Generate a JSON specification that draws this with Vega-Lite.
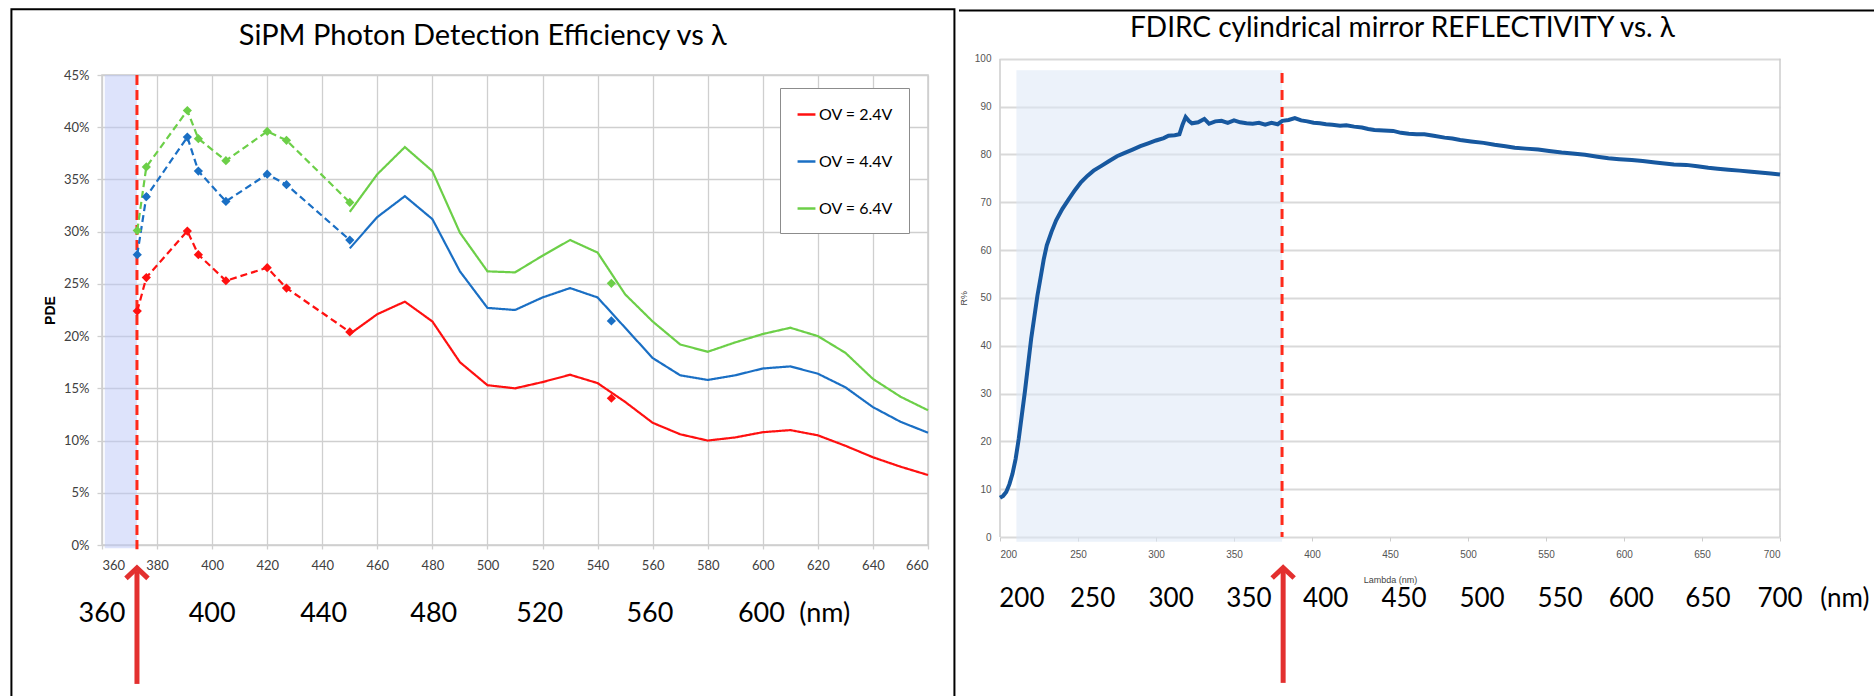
{
  "$schema": "https://vega.github.io/schema/vega-lite/v6.json",
  "padding": {"left": 9, "top": 7, "right": 0, "bottom": 0},
  "background": "white",
  "config": {"font": "Lato"},
  "datasets": {
    "pde": [
      {"x": 372.8, "y": 0.224, "ov": "OV = 2.4V", "seg": "d"},
      {"x": 376.1, "y": 0.256, "ov": "OV = 2.4V", "seg": "d"},
      {"x": 391, "y": 0.3006, "ov": "OV = 2.4V", "seg": "d"},
      {"x": 395, "y": 0.278, "ov": "OV = 2.4V", "seg": "d"},
      {"x": 405, "y": 0.253, "ov": "OV = 2.4V", "seg": "d"},
      {"x": 420, "y": 0.2655, "ov": "OV = 2.4V", "seg": "d"},
      {"x": 427, "y": 0.246, "ov": "OV = 2.4V", "seg": "d"},
      {"x": 450, "y": 0.204, "ov": "OV = 2.4V", "seg": "d"},
      {"x": 372.8, "y": 0.278, "ov": "OV = 4.4V", "seg": "d"},
      {"x": 376.1, "y": 0.3335, "ov": "OV = 4.4V", "seg": "d"},
      {"x": 391, "y": 0.3906, "ov": "OV = 4.4V", "seg": "d"},
      {"x": 395, "y": 0.358, "ov": "OV = 4.4V", "seg": "d"},
      {"x": 405, "y": 0.329, "ov": "OV = 4.4V", "seg": "d"},
      {"x": 420, "y": 0.355, "ov": "OV = 4.4V", "seg": "d"},
      {"x": 427, "y": 0.345, "ov": "OV = 4.4V", "seg": "d"},
      {"x": 450, "y": 0.292, "ov": "OV = 4.4V", "seg": "d"},
      {"x": 372.8, "y": 0.301, "ov": "OV = 6.4V", "seg": "d"},
      {"x": 376.1, "y": 0.362, "ov": "OV = 6.4V", "seg": "d"},
      {"x": 391, "y": 0.416, "ov": "OV = 6.4V", "seg": "d"},
      {"x": 395, "y": 0.389, "ov": "OV = 6.4V", "seg": "d"},
      {"x": 405, "y": 0.368, "ov": "OV = 6.4V", "seg": "d"},
      {"x": 420, "y": 0.396, "ov": "OV = 6.4V", "seg": "d"},
      {"x": 427, "y": 0.3875, "ov": "OV = 6.4V", "seg": "d"},
      {"x": 450, "y": 0.328, "ov": "OV = 6.4V", "seg": "d"},
      {"x": 545, "y": 0.1405, "ov": "OV = 2.4V", "seg": "i"},
      {"x": 545, "y": 0.2145, "ov": "OV = 4.4V", "seg": "i"},
      {"x": 545, "y": 0.2505, "ov": "OV = 6.4V", "seg": "i"},
      {"x": 450, "y": 0.202, "ov": "OV = 2.4V", "seg": "s"},
      {"x": 460, "y": 0.221, "ov": "OV = 2.4V", "seg": "s"},
      {"x": 470, "y": 0.233, "ov": "OV = 2.4V", "seg": "s"},
      {"x": 480, "y": 0.214, "ov": "OV = 2.4V", "seg": "s"},
      {"x": 490, "y": 0.175, "ov": "OV = 2.4V", "seg": "s"},
      {"x": 500, "y": 0.153, "ov": "OV = 2.4V", "seg": "s"},
      {"x": 510, "y": 0.150, "ov": "OV = 2.4V", "seg": "s"},
      {"x": 520, "y": 0.156, "ov": "OV = 2.4V", "seg": "s"},
      {"x": 530, "y": 0.163, "ov": "OV = 2.4V", "seg": "s"},
      {"x": 540, "y": 0.155, "ov": "OV = 2.4V", "seg": "s"},
      {"x": 550, "y": 0.137, "ov": "OV = 2.4V", "seg": "s"},
      {"x": 560, "y": 0.117, "ov": "OV = 2.4V", "seg": "s"},
      {"x": 570, "y": 0.106, "ov": "OV = 2.4V", "seg": "s"},
      {"x": 580, "y": 0.100, "ov": "OV = 2.4V", "seg": "s"},
      {"x": 590, "y": 0.103, "ov": "OV = 2.4V", "seg": "s"},
      {"x": 600, "y": 0.108, "ov": "OV = 2.4V", "seg": "s"},
      {"x": 610, "y": 0.110, "ov": "OV = 2.4V", "seg": "s"},
      {"x": 620, "y": 0.105, "ov": "OV = 2.4V", "seg": "s"},
      {"x": 630, "y": 0.095, "ov": "OV = 2.4V", "seg": "s"},
      {"x": 640, "y": 0.084, "ov": "OV = 2.4V", "seg": "s"},
      {"x": 650, "y": 0.075, "ov": "OV = 2.4V", "seg": "s"},
      {"x": 660, "y": 0.067, "ov": "OV = 2.4V", "seg": "s"},
      {"x": 450, "y": 0.284, "ov": "OV = 4.4V", "seg": "s"},
      {"x": 460, "y": 0.314, "ov": "OV = 4.4V", "seg": "s"},
      {"x": 470, "y": 0.334, "ov": "OV = 4.4V", "seg": "s"},
      {"x": 480, "y": 0.312, "ov": "OV = 4.4V", "seg": "s"},
      {"x": 490, "y": 0.262, "ov": "OV = 4.4V", "seg": "s"},
      {"x": 500, "y": 0.227, "ov": "OV = 4.4V", "seg": "s"},
      {"x": 510, "y": 0.225, "ov": "OV = 4.4V", "seg": "s"},
      {"x": 520, "y": 0.237, "ov": "OV = 4.4V", "seg": "s"},
      {"x": 530, "y": 0.246, "ov": "OV = 4.4V", "seg": "s"},
      {"x": 540, "y": 0.237, "ov": "OV = 4.4V", "seg": "s"},
      {"x": 550, "y": 0.208, "ov": "OV = 4.4V", "seg": "s"},
      {"x": 560, "y": 0.179, "ov": "OV = 4.4V", "seg": "s"},
      {"x": 570, "y": 0.1625, "ov": "OV = 4.4V", "seg": "s"},
      {"x": 580, "y": 0.158, "ov": "OV = 4.4V", "seg": "s"},
      {"x": 590, "y": 0.1625, "ov": "OV = 4.4V", "seg": "s"},
      {"x": 600, "y": 0.169, "ov": "OV = 4.4V", "seg": "s"},
      {"x": 610, "y": 0.171, "ov": "OV = 4.4V", "seg": "s"},
      {"x": 620, "y": 0.164, "ov": "OV = 4.4V", "seg": "s"},
      {"x": 630, "y": 0.151, "ov": "OV = 4.4V", "seg": "s"},
      {"x": 640, "y": 0.132, "ov": "OV = 4.4V", "seg": "s"},
      {"x": 650, "y": 0.118, "ov": "OV = 4.4V", "seg": "s"},
      {"x": 660, "y": 0.1075, "ov": "OV = 4.4V", "seg": "s"},
      {"x": 450, "y": 0.319, "ov": "OV = 6.4V", "seg": "s"},
      {"x": 460, "y": 0.355, "ov": "OV = 6.4V", "seg": "s"},
      {"x": 470, "y": 0.381, "ov": "OV = 6.4V", "seg": "s"},
      {"x": 480, "y": 0.358, "ov": "OV = 6.4V", "seg": "s"},
      {"x": 490, "y": 0.299, "ov": "OV = 6.4V", "seg": "s"},
      {"x": 500, "y": 0.262, "ov": "OV = 6.4V", "seg": "s"},
      {"x": 510, "y": 0.261, "ov": "OV = 6.4V", "seg": "s"},
      {"x": 520, "y": 0.277, "ov": "OV = 6.4V", "seg": "s"},
      {"x": 530, "y": 0.292, "ov": "OV = 6.4V", "seg": "s"},
      {"x": 540, "y": 0.280, "ov": "OV = 6.4V", "seg": "s"},
      {"x": 550, "y": 0.240, "ov": "OV = 6.4V", "seg": "s"},
      {"x": 560, "y": 0.214, "ov": "OV = 6.4V", "seg": "s"},
      {"x": 570, "y": 0.192, "ov": "OV = 6.4V", "seg": "s"},
      {"x": 580, "y": 0.185, "ov": "OV = 6.4V", "seg": "s"},
      {"x": 590, "y": 0.194, "ov": "OV = 6.4V", "seg": "s"},
      {"x": 600, "y": 0.202, "ov": "OV = 6.4V", "seg": "s"},
      {"x": 610, "y": 0.208, "ov": "OV = 6.4V", "seg": "s"},
      {"x": 620, "y": 0.200, "ov": "OV = 6.4V", "seg": "s"},
      {"x": 630, "y": 0.184, "ov": "OV = 6.4V", "seg": "s"},
      {"x": 640, "y": 0.159, "ov": "OV = 6.4V", "seg": "s"},
      {"x": 650, "y": 0.142, "ov": "OV = 6.4V", "seg": "s"},
      {"x": 660, "y": 0.129, "ov": "OV = 6.4V", "seg": "s"}
    ],
    "refl": [
      {"x": 200, "y": 8.2}, {"x": 202, "y": 8.6}, {"x": 204, "y": 9.4}, {"x": 206, "y": 11.0},
      {"x": 208, "y": 13.2}, {"x": 210, "y": 16.3}, {"x": 212, "y": 20.5}, {"x": 214, "y": 25.5},
      {"x": 216, "y": 30.5}, {"x": 218, "y": 36.0}, {"x": 220, "y": 41.5}, {"x": 222, "y": 46.0},
      {"x": 224, "y": 50.5}, {"x": 226, "y": 54.2}, {"x": 228, "y": 58.0}, {"x": 230, "y": 61.0},
      {"x": 233, "y": 63.8}, {"x": 236, "y": 66.2}, {"x": 240, "y": 68.6}, {"x": 244, "y": 70.6},
      {"x": 248, "y": 72.5}, {"x": 252, "y": 74.2}, {"x": 256, "y": 75.5}, {"x": 260, "y": 76.6},
      {"x": 265, "y": 77.6}, {"x": 270, "y": 78.6}, {"x": 275, "y": 79.6}, {"x": 280, "y": 80.3},
      {"x": 285, "y": 81.0}, {"x": 290, "y": 81.7}, {"x": 295, "y": 82.3}, {"x": 300, "y": 82.9},
      {"x": 305, "y": 83.4}, {"x": 308, "y": 83.9}, {"x": 312, "y": 84.0}, {"x": 315, "y": 84.2},
      {"x": 317, "y": 86.2}, {"x": 319, "y": 87.8}, {"x": 321, "y": 87.0}, {"x": 323, "y": 86.5},
      {"x": 327, "y": 86.7}, {"x": 331, "y": 87.4}, {"x": 334, "y": 86.4}, {"x": 338, "y": 86.9},
      {"x": 342, "y": 87.0}, {"x": 346, "y": 86.6}, {"x": 350, "y": 87.1}, {"x": 354, "y": 86.7},
      {"x": 358, "y": 86.5}, {"x": 362, "y": 86.4}, {"x": 366, "y": 86.6}, {"x": 370, "y": 86.2},
      {"x": 374, "y": 86.6}, {"x": 378, "y": 86.3}, {"x": 381, "y": 87.0}, {"x": 385, "y": 87.2},
      {"x": 389, "y": 87.6}, {"x": 393, "y": 87.1}, {"x": 397, "y": 86.9}, {"x": 401, "y": 86.6},
      {"x": 405, "y": 86.5}, {"x": 409, "y": 86.3}, {"x": 413, "y": 86.2}, {"x": 418, "y": 86.0},
      {"x": 422, "y": 86.1}, {"x": 427, "y": 85.8}, {"x": 432, "y": 85.6}, {"x": 436, "y": 85.3},
      {"x": 440, "y": 85.1}, {"x": 446, "y": 85.0}, {"x": 452, "y": 84.9}, {"x": 457, "y": 84.5},
      {"x": 462, "y": 84.3}, {"x": 467, "y": 84.2}, {"x": 472, "y": 84.2}, {"x": 478, "y": 83.9},
      {"x": 485, "y": 83.5}, {"x": 490, "y": 83.3}, {"x": 495, "y": 83.0}, {"x": 502, "y": 82.7},
      {"x": 510, "y": 82.4}, {"x": 517, "y": 82.0}, {"x": 524, "y": 81.7}, {"x": 530, "y": 81.4},
      {"x": 537, "y": 81.2}, {"x": 545, "y": 81.0}, {"x": 552, "y": 80.7}, {"x": 560, "y": 80.4},
      {"x": 567, "y": 80.2}, {"x": 575, "y": 79.9}, {"x": 583, "y": 79.5}, {"x": 590, "y": 79.2},
      {"x": 597, "y": 79.0}, {"x": 605, "y": 78.8}, {"x": 612, "y": 78.6}, {"x": 620, "y": 78.3},
      {"x": 626, "y": 78.1}, {"x": 632, "y": 77.9}, {"x": 640, "y": 77.8}, {"x": 647, "y": 77.5},
      {"x": 654, "y": 77.2}, {"x": 660, "y": 77.0}, {"x": 667, "y": 76.8}, {"x": 674, "y": 76.6},
      {"x": 680, "y": 76.4}, {"x": 687, "y": 76.2}, {"x": 694, "y": 76.0}, {"x": 700, "y": 75.8}
    ],
    "lblL": [
      {"x": 360, "t": "360"}, {"x": 400, "t": "400"}, {"x": 440.5, "t": "440"}, {"x": 480.5, "t": "480"},
      {"x": 519, "t": "520"}, {"x": 559, "t": "560"}, {"x": 599.5, "t": "600"}, {"x": 622.5, "t": "(nm)"}
    ],
    "lblR": [
      {"x": 214, "t": "200"}, {"x": 259.4, "t": "250"}, {"x": 309.7, "t": "300"}, {"x": 359.6, "t": "350"},
      {"x": 408.8, "t": "400"}, {"x": 459, "t": "450"}, {"x": 509, "t": "500"}, {"x": 559, "t": "550"},
      {"x": 604.7, "t": "600"}, {"x": 653.8, "t": "650"}, {"x": 700, "t": "700"}, {"x": 741.6, "t": "(nm)"}
    ],
    "borderR": [
      {"x": 200, "y": 0, "y2": 100},
      {"x": 700, "y": 0, "y2": 100}
    ]
  },
  "hconcat": [
    {
      "width": 826,
      "height": 470,
      "view": {"stroke": "#cccccc", "strokeWidth": 1.5},
      "layer": [
        {
          "data": {"values": [{"x": 361, "x2": 372.7}]},
          "mark": {"type": "rect", "color": "#bbc7f7", "opacity": 0.5},
          "encoding": {
            "x": {"field": "x", "type": "quantitative", "scale": {"domain": [360, 660], "nice": false, "zero": false}, "axis": {"title": null, "values": [360, 380, 400, 420, 440, 460, 480, 500, 520, 540, 560, 580, 600, 620, 640, 660], "grid": true, "gridColor": "#cfcfcf", "gridWidth": 1.3, "domain": false, "tickColor": "#cfcfcf", "tickSize": 4, "tickWidth": 1.3, "labelFont": "Lato", "labelFontSize": 13, "labelColor": "#404040", "labelPadding": 10}},
            "x2": {"field": "x2"},
            "y": {"datum": 0.45, "type": "quantitative", "scale": {"domain": [0, 0.45], "nice": false, "zero": false}, "axis": {"title": "PDE", "titleFont": "Liberation Sans", "titleFontSize": 14, "titleFontWeight": "bold", "titleColor": "#000000", "titlePadding": 6, "values": [0, 0.05, 0.1, 0.15, 0.2, 0.25, 0.3, 0.35, 0.4, 0.45], "format": ".0%", "grid": true, "gridColor": "#cfcfcf", "gridWidth": 1.3, "domain": false, "tickColor": "#cfcfcf", "tickSize": 5, "tickWidth": 1.3, "labelFont": "Lato", "labelFontSize": 13, "labelColor": "#404040", "labelPadding": 8}},
            "y2": {"datum": -0.003}
          }
        },
        {
          "data": {"values": [{"x": 327.1, "x2": 669.6}]},
          "mark": {"type": "rect", "filled": false, "stroke": "#000000", "strokeWidth": 2},
          "encoding": {
            "x": {"field": "x", "type": "quantitative", "scale": {"domain": [360, 660], "nice": false, "zero": false}, "axis": {"title": null, "values": [360, 380, 400, 420, 440, 460, 480, 500, 520, 540, 560, 580, 600, 620, 640, 660], "grid": true, "gridColor": "#cfcfcf", "gridWidth": 1.3, "domain": false, "tickColor": "#cfcfcf", "tickSize": 4, "tickWidth": 1.3, "labelFont": "Lato", "labelFontSize": 13, "labelColor": "#404040", "labelPadding": 10}},
            "x2": {"field": "x2"},
            "y": {"datum": 0.513, "type": "quantitative", "scale": {"domain": [0, 0.45], "nice": false, "zero": false}, "axis": {"title": "PDE", "titleFont": "Liberation Sans", "titleFontSize": 14, "titleFontWeight": "bold", "titleColor": "#000000", "titlePadding": 6, "values": [0, 0.05, 0.1, 0.15, 0.2, 0.25, 0.3, 0.35, 0.4, 0.45], "format": ".0%", "grid": true, "gridColor": "#cfcfcf", "gridWidth": 1.3, "domain": false, "tickColor": "#cfcfcf", "tickSize": 5, "tickWidth": 1.3, "labelFont": "Lato", "labelFontSize": 13, "labelColor": "#404040", "labelPadding": 8}},
            "y2": {"datum": -0.2}
          }
        },
        {
          "data": {"values": [{"x": 372.7}]},
          "mark": {"type": "rule", "color": "#ff2a1a", "strokeWidth": 3, "strokeDash": [10, 5]},
          "encoding": {
            "x": {"field": "x", "type": "quantitative", "scale": {"domain": [360, 660], "nice": false, "zero": false}, "axis": {"title": null, "values": [360, 380, 400, 420, 440, 460, 480, 500, 520, 540, 560, 580, 600, 620, 640, 660], "grid": true, "gridColor": "#cfcfcf", "gridWidth": 1.3, "domain": false, "tickColor": "#cfcfcf", "tickSize": 4, "tickWidth": 1.3, "labelFont": "Lato", "labelFontSize": 13, "labelColor": "#404040", "labelPadding": 10}},
            "y": {"datum": 0.45, "type": "quantitative", "scale": {"domain": [0, 0.45], "nice": false, "zero": false}, "axis": {"title": "PDE", "titleFont": "Liberation Sans", "titleFontSize": 14, "titleFontWeight": "bold", "titleColor": "#000000", "titlePadding": 6, "values": [0, 0.05, 0.1, 0.15, 0.2, 0.25, 0.3, 0.35, 0.4, 0.45], "format": ".0%", "grid": true, "gridColor": "#cfcfcf", "gridWidth": 1.3, "domain": false, "tickColor": "#cfcfcf", "tickSize": 5, "tickWidth": 1.3, "labelFont": "Lato", "labelFontSize": 13, "labelColor": "#404040", "labelPadding": 8}},
            "y2": {"datum": -0.004}
          }
        },
        {
          "data": {"name": "pde"},
          "transform": [{"filter": "datum.seg !== 'i'"}],
          "mark": {"type": "line", "strokeWidth": 2.2},
          "encoding": {
            "x": {"field": "x", "type": "quantitative", "scale": {"domain": [360, 660], "nice": false, "zero": false}, "axis": {"title": null, "values": [360, 380, 400, 420, 440, 460, 480, 500, 520, 540, 560, 580, 600, 620, 640, 660], "grid": true, "gridColor": "#cfcfcf", "gridWidth": 1.3, "domain": false, "tickColor": "#cfcfcf", "tickSize": 4, "tickWidth": 1.3, "labelFont": "Lato", "labelFontSize": 13, "labelColor": "#404040", "labelPadding": 10}},
            "y": {"field": "y", "type": "quantitative", "scale": {"domain": [0, 0.45], "nice": false, "zero": false}, "axis": {"title": "PDE", "titleFont": "Liberation Sans", "titleFontSize": 14, "titleFontWeight": "bold", "titleColor": "#000000", "titlePadding": 6, "values": [0, 0.05, 0.1, 0.15, 0.2, 0.25, 0.3, 0.35, 0.4, 0.45], "format": ".0%", "grid": true, "gridColor": "#cfcfcf", "gridWidth": 1.3, "domain": false, "tickColor": "#cfcfcf", "tickSize": 5, "tickWidth": 1.3, "labelFont": "Lato", "labelFontSize": 13, "labelColor": "#404040", "labelPadding": 8}},
            "color": {
              "field": "ov", "type": "nominal",
              "scale": {"domain": ["OV = 2.4V", "OV = 4.4V", "OV = 6.4V"], "range": ["#ff1010", "#1a6fc4", "#6ccf48"]},
              "legend": {"title": null, "orient": "none", "legendX": 678, "legendY": 13, "symbolType": "stroke", "symbolSize": 320, "symbolStrokeWidth": 2.5, "labelFontSize": 16, "labelFont": "Lato", "labelColor": "#000000", "labelOffset": 2, "rowPadding": 28, "padding": 16, "strokeColor": "#8c8c8c", "fillColor": "#ffffff"}
            },
            "strokeDash": {"field": "seg", "type": "nominal", "scale": {"domain": ["d", "s"], "range": [[7, 4], [1, 0]]}, "legend": null}
          }
        },
        {
          "data": {"name": "pde"},
          "transform": [{"filter": "datum.seg !== 's'"}],
          "mark": {"type": "point", "shape": "diamond", "filled": true, "size": 85, "opacity": 1},
          "encoding": {
            "x": {"field": "x", "type": "quantitative", "scale": {"domain": [360, 660], "nice": false, "zero": false}, "axis": {"title": null, "values": [360, 380, 400, 420, 440, 460, 480, 500, 520, 540, 560, 580, 600, 620, 640, 660], "grid": true, "gridColor": "#cfcfcf", "gridWidth": 1.3, "domain": false, "tickColor": "#cfcfcf", "tickSize": 4, "tickWidth": 1.3, "labelFont": "Lato", "labelFontSize": 13, "labelColor": "#404040", "labelPadding": 10}},
            "y": {"field": "y", "type": "quantitative", "scale": {"domain": [0, 0.45], "nice": false, "zero": false}, "axis": {"title": "PDE", "titleFont": "Liberation Sans", "titleFontSize": 14, "titleFontWeight": "bold", "titleColor": "#000000", "titlePadding": 6, "values": [0, 0.05, 0.1, 0.15, 0.2, 0.25, 0.3, 0.35, 0.4, 0.45], "format": ".0%", "grid": true, "gridColor": "#cfcfcf", "gridWidth": 1.3, "domain": false, "tickColor": "#cfcfcf", "tickSize": 5, "tickWidth": 1.3, "labelFont": "Lato", "labelFontSize": 13, "labelColor": "#404040", "labelPadding": 8}},
            "fill": {"field": "ov", "type": "nominal", "scale": {"domain": ["OV = 6.4V", "OV = 4.4V", "OV = 2.4V"], "range": ["#6ccf48", "#1a6fc4", "#ff1010"]}, "legend": null}
          }
        },
        {
          "data": {"name": "lblL"},
          "mark": {"type": "text", "font": "Lato", "fontSize": 27, "color": "#000000", "align": "center", "baseline": "middle"},
          "encoding": {
            "x": {"field": "x", "type": "quantitative", "scale": {"domain": [360, 660], "nice": false, "zero": false}, "axis": {"title": null, "values": [360, 380, 400, 420, 440, 460, 480, 500, 520, 540, 560, 580, 600, 620, 640, 660], "grid": true, "gridColor": "#cfcfcf", "gridWidth": 1.3, "domain": false, "tickColor": "#cfcfcf", "tickSize": 4, "tickWidth": 1.3, "labelFont": "Lato", "labelFontSize": 13, "labelColor": "#404040", "labelPadding": 10}},
            "y": {"datum": -0.066, "type": "quantitative", "scale": {"domain": [0, 0.45], "nice": false, "zero": false}, "axis": {"title": "PDE", "titleFont": "Liberation Sans", "titleFontSize": 14, "titleFontWeight": "bold", "titleColor": "#000000", "titlePadding": 6, "values": [0, 0.05, 0.1, 0.15, 0.2, 0.25, 0.3, 0.35, 0.4, 0.45], "format": ".0%", "grid": true, "gridColor": "#cfcfcf", "gridWidth": 1.3, "domain": false, "tickColor": "#cfcfcf", "tickSize": 5, "tickWidth": 1.3, "labelFont": "Lato", "labelFontSize": 13, "labelColor": "#404040", "labelPadding": 8}},
            "text": {"field": "t"}
          }
        },
        {
          "data": {"values": [{"x": 498.3, "t": "SiPM Photon Detection Efficiency vs λ"}]},
          "mark": {"type": "text", "font": "Lato", "fontSize": 29, "color": "#000000", "align": "center", "baseline": "middle"},
          "encoding": {
            "x": {"field": "x", "type": "quantitative", "scale": {"domain": [360, 660], "nice": false, "zero": false}, "axis": {"title": null, "values": [360, 380, 400, 420, 440, 460, 480, 500, 520, 540, 560, 580, 600, 620, 640, 660], "grid": true, "gridColor": "#cfcfcf", "gridWidth": 1.3, "domain": false, "tickColor": "#cfcfcf", "tickSize": 4, "tickWidth": 1.3, "labelFont": "Lato", "labelFontSize": 13, "labelColor": "#404040", "labelPadding": 10}},
            "y": {"datum": 0.487, "type": "quantitative", "scale": {"domain": [0, 0.45], "nice": false, "zero": false}, "axis": {"title": "PDE", "titleFont": "Liberation Sans", "titleFontSize": 14, "titleFontWeight": "bold", "titleColor": "#000000", "titlePadding": 6, "values": [0, 0.05, 0.1, 0.15, 0.2, 0.25, 0.3, 0.35, 0.4, 0.45], "format": ".0%", "grid": true, "gridColor": "#cfcfcf", "gridWidth": 1.3, "domain": false, "tickColor": "#cfcfcf", "tickSize": 5, "tickWidth": 1.3, "labelFont": "Lato", "labelFontSize": 13, "labelColor": "#404040", "labelPadding": 8}},
            "text": {"field": "t"}
          }
        },
        {
          "data": {"values": [{"x": 372.7}]},
          "mark": {"type": "rule", "color": "#e3302f", "strokeWidth": 5},
          "encoding": {
            "x": {"field": "x", "type": "quantitative", "scale": {"domain": [360, 660], "nice": false, "zero": false}, "axis": {"title": null, "values": [360, 380, 400, 420, 440, 460, 480, 500, 520, 540, 560, 580, 600, 620, 640, 660], "grid": true, "gridColor": "#cfcfcf", "gridWidth": 1.3, "domain": false, "tickColor": "#cfcfcf", "tickSize": 4, "tickWidth": 1.3, "labelFont": "Lato", "labelFontSize": 13, "labelColor": "#404040", "labelPadding": 10}},
            "y": {"datum": -0.133, "type": "quantitative", "scale": {"domain": [0, 0.45], "nice": false, "zero": false}, "axis": {"title": "PDE", "titleFont": "Liberation Sans", "titleFontSize": 14, "titleFontWeight": "bold", "titleColor": "#000000", "titlePadding": 6, "values": [0, 0.05, 0.1, 0.15, 0.2, 0.25, 0.3, 0.35, 0.4, 0.45], "format": ".0%", "grid": true, "gridColor": "#cfcfcf", "gridWidth": 1.3, "domain": false, "tickColor": "#cfcfcf", "tickSize": 5, "tickWidth": 1.3, "labelFont": "Lato", "labelFontSize": 13, "labelColor": "#404040", "labelPadding": 8}},
            "y2": {"datum": -0.025}
          }
        },
        {
          "data": {"values": [{"x": 372.7}]},
          "mark": {"type": "point", "shape": "M-1,0.95L0,0L1,0.95", "size": 484, "filled": false, "color": "#e3302f", "strokeWidth": 5, "opacity": 1, "strokeJoin": "miter"},
          "encoding": {
            "x": {"field": "x", "type": "quantitative", "scale": {"domain": [360, 660], "nice": false, "zero": false}, "axis": {"title": null, "values": [360, 380, 400, 420, 440, 460, 480, 500, 520, 540, 560, 580, 600, 620, 640, 660], "grid": true, "gridColor": "#cfcfcf", "gridWidth": 1.3, "domain": false, "tickColor": "#cfcfcf", "tickSize": 4, "tickWidth": 1.3, "labelFont": "Lato", "labelFontSize": 13, "labelColor": "#404040", "labelPadding": 10}},
            "y": {"datum": -0.022, "type": "quantitative", "scale": {"domain": [0, 0.45], "nice": false, "zero": false}, "axis": {"title": "PDE", "titleFont": "Liberation Sans", "titleFontSize": 14, "titleFontWeight": "bold", "titleColor": "#000000", "titlePadding": 6, "values": [0, 0.05, 0.1, 0.15, 0.2, 0.25, 0.3, 0.35, 0.4, 0.45], "format": ".0%", "grid": true, "gridColor": "#cfcfcf", "gridWidth": 1.3, "domain": false, "tickColor": "#cfcfcf", "tickSize": 5, "tickWidth": 1.3, "labelFont": "Lato", "labelFontSize": 13, "labelColor": "#404040", "labelPadding": 8}}
          }
        }
      ]
    },
    {
      "width": 780,
      "height": 462,
      "view": {"stroke": null},
      "layer": [
        {
          "data": {"values": [{"x": 210.5, "x2": 380.8}]},
          "mark": {"type": "rect", "color": "#dde8f6", "opacity": 0.55},
          "encoding": {
            "x": {"field": "x", "type": "quantitative", "scale": {"domain": [200, 700], "nice": false, "zero": false}, "axis": {"title": "Lambda (nm)", "titleFont": "Liberation Sans", "titleFontSize": 9, "titleFontWeight": "normal", "titleColor": "#444444", "titlePadding": 16, "values": [200, 250, 300, 350, 400, 450, 500, 550, 600, 650, 700], "grid": false, "domain": false, "tickColor": "#cccccc", "tickSize": 4, "labelFont": "Liberation Sans", "labelFontSize": 10, "labelColor": "#555555", "labelPadding": 8}},
            "x2": {"field": "x2"},
            "y": {"datum": 97.6, "type": "quantitative", "scale": {"domain": [0, 100], "range": [462, -16.3], "nice": false, "zero": false}, "axis": {"title": "R%", "titleFont": "Liberation Sans", "titleFontSize": 9, "titleFontWeight": "normal", "titleColor": "#444444", "titlePadding": 6, "values": [0, 10, 20, 30, 40, 50, 60, 70, 80, 90, 100], "grid": true, "gridColor": "#d9d9d9", "gridWidth": 2, "domain": false, "ticks": false, "labelFont": "Liberation Sans", "labelFontSize": 10, "labelColor": "#555555", "labelPadding": 9}},
            "y2": {"datum": -1}
          }
        },
        {
          "data": {"name": "borderR"},
          "mark": {"type": "rule", "color": "#cccccc", "strokeWidth": 1.5},
          "encoding": {
            "x": {"field": "x", "type": "quantitative", "scale": {"domain": [200, 700], "nice": false, "zero": false}, "axis": {"title": "Lambda (nm)", "titleFont": "Liberation Sans", "titleFontSize": 9, "titleFontWeight": "normal", "titleColor": "#444444", "titlePadding": 16, "values": [200, 250, 300, 350, 400, 450, 500, 550, 600, 650, 700], "grid": false, "domain": false, "tickColor": "#cccccc", "tickSize": 4, "labelFont": "Liberation Sans", "labelFontSize": 10, "labelColor": "#555555", "labelPadding": 8}},
            "y": {"field": "y", "type": "quantitative", "scale": {"domain": [0, 100], "range": [462, -16.3], "nice": false, "zero": false}, "axis": {"title": "R%", "titleFont": "Liberation Sans", "titleFontSize": 9, "titleFontWeight": "normal", "titleColor": "#444444", "titlePadding": 6, "values": [0, 10, 20, 30, 40, 50, 60, 70, 80, 90, 100], "grid": true, "gridColor": "#d9d9d9", "gridWidth": 2, "domain": false, "ticks": false, "labelFont": "Liberation Sans", "labelFontSize": 10, "labelColor": "#555555", "labelPadding": 9}},
            "y2": {"field": "y2"}
          }
        },
        {
          "data": {"values": [{"x": 173.7, "x2": 800}]},
          "mark": {"type": "rule", "color": "#000000", "strokeWidth": 2},
          "encoding": {
            "x": {"field": "x", "type": "quantitative", "scale": {"domain": [200, 700], "nice": false, "zero": false}, "axis": {"title": "Lambda (nm)", "titleFont": "Liberation Sans", "titleFontSize": 9, "titleFontWeight": "normal", "titleColor": "#444444", "titlePadding": 16, "values": [200, 250, 300, 350, 400, 450, 500, 550, 600, 650, 700], "grid": false, "domain": false, "tickColor": "#cccccc", "tickSize": 4, "labelFont": "Liberation Sans", "labelFontSize": 10, "labelColor": "#555555", "labelPadding": 8}},
            "x2": {"field": "x2"},
            "y": {"datum": 110.1, "type": "quantitative", "scale": {"domain": [0, 100], "range": [462, -16.3], "nice": false, "zero": false}, "axis": {"title": "R%", "titleFont": "Liberation Sans", "titleFontSize": 9, "titleFontWeight": "normal", "titleColor": "#444444", "titlePadding": 6, "values": [0, 10, 20, 30, 40, 50, 60, 70, 80, 90, 100], "grid": true, "gridColor": "#d9d9d9", "gridWidth": 2, "domain": false, "ticks": false, "labelFont": "Liberation Sans", "labelFontSize": 10, "labelColor": "#555555", "labelPadding": 9}}
          }
        },
        {
          "data": {"values": [{"x": 380.8}]},
          "mark": {"type": "rule", "color": "#ff2a1a", "strokeWidth": 3, "strokeDash": [10, 7]},
          "encoding": {
            "x": {"field": "x", "type": "quantitative", "scale": {"domain": [200, 700], "nice": false, "zero": false}, "axis": {"title": "Lambda (nm)", "titleFont": "Liberation Sans", "titleFontSize": 9, "titleFontWeight": "normal", "titleColor": "#444444", "titlePadding": 16, "values": [200, 250, 300, 350, 400, 450, 500, 550, 600, 650, 700], "grid": false, "domain": false, "tickColor": "#cccccc", "tickSize": 4, "labelFont": "Liberation Sans", "labelFontSize": 10, "labelColor": "#555555", "labelPadding": 8}},
            "y": {"datum": 97, "type": "quantitative", "scale": {"domain": [0, 100], "range": [462, -16.3], "nice": false, "zero": false}, "axis": {"title": "R%", "titleFont": "Liberation Sans", "titleFontSize": 9, "titleFontWeight": "normal", "titleColor": "#444444", "titlePadding": 6, "values": [0, 10, 20, 30, 40, 50, 60, 70, 80, 90, 100], "grid": true, "gridColor": "#d9d9d9", "gridWidth": 2, "domain": false, "ticks": false, "labelFont": "Liberation Sans", "labelFontSize": 10, "labelColor": "#555555", "labelPadding": 9}},
            "y2": {"datum": 0}
          }
        },
        {
          "data": {"name": "refl"},
          "mark": {"type": "line", "color": "#17589f", "strokeWidth": 4},
          "encoding": {
            "x": {"field": "x", "type": "quantitative", "scale": {"domain": [200, 700], "nice": false, "zero": false}, "axis": {"title": "Lambda (nm)", "titleFont": "Liberation Sans", "titleFontSize": 9, "titleFontWeight": "normal", "titleColor": "#444444", "titlePadding": 16, "values": [200, 250, 300, 350, 400, 450, 500, 550, 600, 650, 700], "grid": false, "domain": false, "tickColor": "#cccccc", "tickSize": 4, "labelFont": "Liberation Sans", "labelFontSize": 10, "labelColor": "#555555", "labelPadding": 8}},
            "y": {"field": "y", "type": "quantitative", "scale": {"domain": [0, 100], "range": [462, -16.3], "nice": false, "zero": false}, "axis": {"title": "R%", "titleFont": "Liberation Sans", "titleFontSize": 9, "titleFontWeight": "normal", "titleColor": "#444444", "titlePadding": 6, "values": [0, 10, 20, 30, 40, 50, 60, 70, 80, 90, 100], "grid": true, "gridColor": "#d9d9d9", "gridWidth": 2, "domain": false, "ticks": false, "labelFont": "Liberation Sans", "labelFontSize": 10, "labelColor": "#555555", "labelPadding": 9}}
          }
        },
        {
          "data": {"name": "lblR"},
          "mark": {"type": "text", "font": "Lato", "fontSize": 26, "color": "#000000", "align": "center", "baseline": "middle"},
          "encoding": {
            "x": {"field": "x", "type": "quantitative", "scale": {"domain": [200, 700], "nice": false, "zero": false}, "axis": {"title": "Lambda (nm)", "titleFont": "Liberation Sans", "titleFontSize": 9, "titleFontWeight": "normal", "titleColor": "#444444", "titlePadding": 16, "values": [200, 250, 300, 350, 400, 450, 500, 550, 600, 650, 700], "grid": false, "domain": false, "tickColor": "#cccccc", "tickSize": 4, "labelFont": "Liberation Sans", "labelFontSize": 10, "labelColor": "#555555", "labelPadding": 8}},
            "y": {"datum": -13.0, "type": "quantitative", "scale": {"domain": [0, 100], "range": [462, -16.3], "nice": false, "zero": false}, "axis": {"title": "R%", "titleFont": "Liberation Sans", "titleFontSize": 9, "titleFontWeight": "normal", "titleColor": "#444444", "titlePadding": 6, "values": [0, 10, 20, 30, 40, 50, 60, 70, 80, 90, 100], "grid": true, "gridColor": "#d9d9d9", "gridWidth": 2, "domain": false, "ticks": false, "labelFont": "Liberation Sans", "labelFontSize": 10, "labelColor": "#555555", "labelPadding": 9}},
            "text": {"field": "t"}
          }
        },
        {
          "data": {"values": [{"x": 458, "t": "FDIRC cylindrical mirror REFLECTIVITY vs. λ"}]},
          "mark": {"type": "text", "font": "Lato", "fontSize": 28, "color": "#000000", "align": "center", "baseline": "middle"},
          "encoding": {
            "x": {"field": "x", "type": "quantitative", "scale": {"domain": [200, 700], "nice": false, "zero": false}, "axis": {"title": "Lambda (nm)", "titleFont": "Liberation Sans", "titleFontSize": 9, "titleFontWeight": "normal", "titleColor": "#444444", "titlePadding": 16, "values": [200, 250, 300, 350, 400, 450, 500, 550, 600, 650, 700], "grid": false, "domain": false, "tickColor": "#cccccc", "tickSize": 4, "labelFont": "Liberation Sans", "labelFontSize": 10, "labelColor": "#555555", "labelPadding": 8}},
            "y": {"datum": 106.2, "type": "quantitative", "scale": {"domain": [0, 100], "range": [462, -16.3], "nice": false, "zero": false}, "axis": {"title": "R%", "titleFont": "Liberation Sans", "titleFontSize": 9, "titleFontWeight": "normal", "titleColor": "#444444", "titlePadding": 6, "values": [0, 10, 20, 30, 40, 50, 60, 70, 80, 90, 100], "grid": true, "gridColor": "#d9d9d9", "gridWidth": 2, "domain": false, "ticks": false, "labelFont": "Liberation Sans", "labelFontSize": 10, "labelColor": "#555555", "labelPadding": 9}},
            "text": {"field": "t"}
          }
        },
        {
          "data": {"values": [{"x": 381.5}]},
          "mark": {"type": "rule", "color": "#e3302f", "strokeWidth": 5},
          "encoding": {
            "x": {"field": "x", "type": "quantitative", "scale": {"domain": [200, 700], "nice": false, "zero": false}, "axis": {"title": "Lambda (nm)", "titleFont": "Liberation Sans", "titleFontSize": 9, "titleFontWeight": "normal", "titleColor": "#444444", "titlePadding": 16, "values": [200, 250, 300, 350, 400, 450, 500, 550, 600, 650, 700], "grid": false, "domain": false, "tickColor": "#cccccc", "tickSize": 4, "labelFont": "Liberation Sans", "labelFontSize": 10, "labelColor": "#555555", "labelPadding": 8}},
            "y": {"datum": -30.5, "type": "quantitative", "scale": {"domain": [0, 100], "range": [462, -16.3], "nice": false, "zero": false}, "axis": {"title": "R%", "titleFont": "Liberation Sans", "titleFontSize": 9, "titleFontWeight": "normal", "titleColor": "#444444", "titlePadding": 6, "values": [0, 10, 20, 30, 40, 50, 60, 70, 80, 90, 100], "grid": true, "gridColor": "#d9d9d9", "gridWidth": 2, "domain": false, "ticks": false, "labelFont": "Liberation Sans", "labelFontSize": 10, "labelColor": "#555555", "labelPadding": 9}},
            "y2": {"datum": -7.0}
          }
        },
        {
          "data": {"values": [{"x": 381.5}]},
          "mark": {"type": "point", "shape": "M-1,0.95L0,0L1,0.95", "size": 484, "filled": false, "color": "#e3302f", "strokeWidth": 5, "opacity": 1, "strokeJoin": "miter"},
          "encoding": {
            "x": {"field": "x", "type": "quantitative", "scale": {"domain": [200, 700], "nice": false, "zero": false}, "axis": {"title": "Lambda (nm)", "titleFont": "Liberation Sans", "titleFontSize": 9, "titleFontWeight": "normal", "titleColor": "#444444", "titlePadding": 16, "values": [200, 250, 300, 350, 400, 450, 500, 550, 600, 650, 700], "grid": false, "domain": false, "tickColor": "#cccccc", "tickSize": 4, "labelFont": "Liberation Sans", "labelFontSize": 10, "labelColor": "#555555", "labelPadding": 8}},
            "y": {"datum": -6.4, "type": "quantitative", "scale": {"domain": [0, 100], "range": [462, -16.3], "nice": false, "zero": false}, "axis": {"title": "R%", "titleFont": "Liberation Sans", "titleFontSize": 9, "titleFontWeight": "normal", "titleColor": "#444444", "titlePadding": 6, "values": [0, 10, 20, 30, 40, 50, 60, 70, 80, 90, 100], "grid": true, "gridColor": "#d9d9d9", "gridWidth": 2, "domain": false, "ticks": false, "labelFont": "Liberation Sans", "labelFontSize": 10, "labelColor": "#555555", "labelPadding": 9}}
          }
        }
      ]
    }
  ],
  "spacing": 0,
  "resolve": {"scale": {"x": "independent", "y": "independent", "color": "independent", "strokeDash": "independent", "fill": "independent"}}
}
